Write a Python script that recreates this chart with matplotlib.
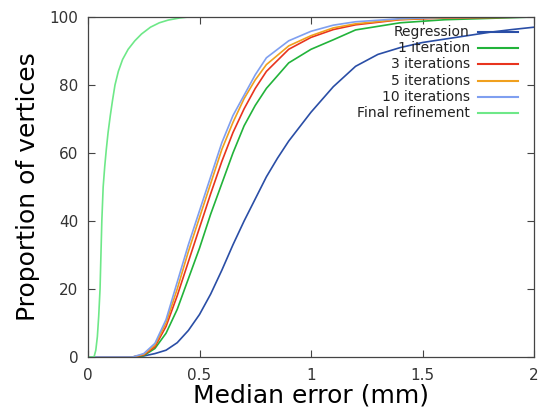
import matplotlib
matplotlib.use("Agg")
import matplotlib.pyplot as plt

# ---- data ----
labels = ["Regression", "1 iteration", "3 iterations", "5 iterations",
          "10 iterations", "Final refinement"]

x_reg = [0, 0.2, 0.25, 0.3, 0.35, 0.4, 0.45, 0.5, 0.55, 0.6, 0.65, 0.7, 0.75,
         0.8, 0.85, 0.9, 1.0, 1.1, 1.2, 1.3, 1.4, 1.5, 1.6, 1.7, 1.8, 1.9, 2.0]
y_reg = [0, 0, 0.3, 1, 2, 4.2, 7.8, 12.5, 18.5, 25.5, 33, 40, 46.5,
         53, 58.5, 63.5, 72, 79.5, 85.5, 89, 91, 92.5, 93.5, 94.5, 95.5, 96.3, 97]

x_it = [0, 0.2, 0.25, 0.3, 0.35, 0.4, 0.45, 0.5, 0.55, 0.6, 0.65, 0.7, 0.75,
        0.8, 0.9, 1.0, 1.1, 1.2, 1.4, 1.6, 2.0]
y_it1 = [0, 0, 0.4, 2.5, 7, 14, 23, 32, 42, 51, 60, 68, 74,
         79, 86.5, 90.5, 93.3, 96.2, 98.3, 99.2, 100]
y_it3 = [0, 0, 0.6, 3, 9, 18, 28, 38, 48, 57.5, 66, 73, 79,
         84, 90.5, 94, 96.3, 97.7, 99.2, 99.7, 100]
y_it5 = [0, 0, 0.8, 3.5, 10, 20, 31, 41, 51, 61, 69, 76, 81.5,
         86, 91.5, 94.5, 96.8, 98, 99.3, 99.8, 100]
y_it10 = [0, 0, 1, 4, 11, 22, 33, 43, 53, 63, 71, 77, 83,
          88, 93, 95.8, 97.6, 98.6, 99.5, 99.9, 100]

x_fin = [0, 0.027, 0.035, 0.042, 0.048, 0.054, 0.058, 0.062, 0.068, 0.075,
         0.082, 0.09, 0.1, 0.11, 0.121, 0.136, 0.155, 0.18, 0.21, 0.24,
         0.28, 0.32, 0.36, 0.41, 0.45, 2.0]
y_fin = [0, 0, 2, 6, 12, 20, 30, 40, 50, 56,
         61, 66, 71, 75.5, 80, 84, 87.5, 90.5, 93, 95,
         97, 98.3, 99.1, 99.7, 100, 100]

xticks = [0, 0.5, 1, 1.5, 2]
xtick_labels = ["0", "0.5", "1", "1.5", "2"]
yticks = [0, 20, 40, 60, 80, 100]

colors = ["#2a4ea6", "#22b33a", "#e8341e", "#f0a01e", "#7f9ff0", "#6ee888"]

series = [(x_reg, y_reg), (x_it, y_it1), (x_it, y_it3), (x_it, y_it5),
          (x_it, y_it10), (x_fin, y_fin)]

fig = plt.figure(figsize=(5.38, 4.08), dpi=100)
ax = fig.add_axes([88/538, 1-357/408, 446/538, 340/408])

for (xs, ys), c in zip(series, colors):
    ax.plot(xs, ys, color=c, lw=1.2, solid_joinstyle="round")

ax.set_xlim(0, 2)
ax.set_ylim(0, 100)
ax.set_xticks(xticks)
ax.set_xticklabels(xtick_labels)
ax.set_yticks(yticks)
ax.tick_params(direction="in", length=5, width=0.8, colors="#444444",
               labelcolor="#333333", labelsize=11, top=True, right=True)
ax.tick_params(axis="x", pad=8)
ax.tick_params(axis="y", pad=7)
for s in ax.spines.values():
    s.set_color("#444444")
    s.set_linewidth(0.9)

ax.set_xlabel("Median error (mm)", fontsize=18, labelpad=0)
ax.set_ylabel("Proportion of vertices", fontsize=18, labelpad=7)

# manual legend (right-aligned labels, sample lines on the right)
y0 = (357-32)/340
dy = 16.2/340
for i, (lab, c) in enumerate(zip(labels, colors)):
    yy = y0 - i*dy
    ax.text(0.856, yy, lab, ha="right", va="center", fontsize=10,
            color="#222222", transform=ax.transAxes)
    ax.plot([0.874, 0.964], [yy, yy], color=c, lw=1.5,
            transform=ax.transAxes, clip_on=False)

fig.savefig("out.png", dpi=100)
